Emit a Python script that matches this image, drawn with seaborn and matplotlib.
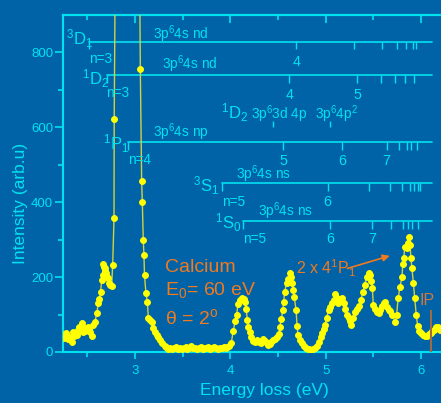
import numpy as np
import pandas as pd
import matplotlib
matplotlib.use('Agg')
import matplotlib.pyplot as plt
import seaborn as sns

# spectrum (energy loss in eV, intensity in arb. units)
energy = [2.25, 2.26, 2.27, 2.28, 2.29, 2.30, 2.31, 2.32, 2.335, 2.35, 2.36, 2.37, 2.38, 2.39,
          2.40, 2.41, 2.42, 2.43, 2.44, 2.45, 2.46, 2.47, 2.48, 2.49, 2.50, 2.51, 2.52, 2.53,
          2.545, 2.56, 2.58, 2.60, 2.615, 2.625, 2.64, 2.65, 2.66, 2.668, 2.675, 2.685, 2.69,
          2.70, 2.71, 2.72, 2.73, 2.74, 2.755, 2.766, 2.78, 2.782, 2.82, 2.92, 3.02, 3.056,
          3.07, 3.077, 3.087, 3.094, 3.10, 3.115, 3.13, 3.14, 3.157, 3.175, 3.19, 3.21, 3.228,
          3.245, 3.265, 3.28, 3.31, 3.33, 3.35, 3.37,
          3.39, 3.41, 3.43, 3.45, 3.47, 3.49, 3.51, 3.53, 3.55, 3.57, 3.59, 3.61, 3.63, 3.65,
          3.67, 3.69, 3.71, 3.73, 3.75, 3.77, 3.79, 3.81, 3.83, 3.85, 3.87, 3.89, 3.91, 3.93,
          3.95, 3.97, 3.99,
          4.01, 4.03, 4.05, 4.067, 4.08, 4.10, 4.12, 4.14, 4.15, 4.165, 4.18, 4.19, 4.21, 4.22,
          4.24, 4.26, 4.28, 4.30, 4.32, 4.34, 4.36, 4.38, 4.40, 4.42, 4.43, 4.45, 4.47, 4.49,
          4.51, 4.52, 4.535, 4.55, 4.56, 4.57, 4.59, 4.61, 4.625, 4.64, 4.65, 4.66, 4.67, 4.69,
          4.70, 4.71, 4.73, 4.75, 4.77, 4.79, 4.81, 4.83, 4.85, 4.87, 4.89, 4.91, 4.93, 4.95,
          4.965, 4.98, 4.99, 5.01, 5.03, 5.05, 5.07, 5.09, 5.10, 5.12, 5.13, 5.15, 5.17, 5.19,
          5.20, 5.22, 5.24, 5.26, 5.27, 5.29, 5.31, 5.33, 5.35, 5.37, 5.39, 5.41, 5.43, 5.45,
          5.465, 5.48, 5.49, 5.50, 5.52, 5.54, 5.555, 5.57, 5.59, 5.61, 5.62, 5.64, 5.66, 5.68,
          5.70, 5.73, 5.745, 5.76, 5.78, 5.80, 5.81, 5.82, 5.83, 5.85, 5.86, 5.87, 5.885, 5.895,
          5.905, 5.92, 5.935, 5.95, 5.965, 5.98, 6.00, 6.02, 6.04, 6.06, 6.08, 6.10, 6.12, 6.14,
          6.16, 6.18, 6.20]
intensity = [45, 38, 48, 50, 42, 35, 40, 37, 27, 54, 44, 50, 47, 45,
             60, 67, 55, 62, 77, 62, 54, 63, 57, 59, 65, 67, 60, 54,
             43, 72, 81, 104, 130, 141, 161, 192, 205, 236, 228, 223, 215,
             210, 200, 197, 185, 179, 176, 232, 357, 621, 2000, 4000, 2100, 755,
             456, 401, 299, 259, 205, 157, 134, 90, 85, 80, 65, 54, 45,
             41, 32, 25, 17, 14, 9, 12,
             8, 11, 14, 9, 12, 7, 10, 13, 9, 11, 15, 10, 12, 8,
             11, 14, 9, 12, 10, 13, 9, 11, 14, 10, 8, 12, 10, 13,
             11, 14, 16,
             24, 55, 82, 100, 128, 139, 145, 141, 134, 115, 85, 68, 54, 41,
             30, 27, 32, 26, 23, 34, 30, 25, 19, 22, 27, 31, 35, 40,
             48, 68, 88, 112, 134, 161, 183, 195, 210, 201, 183, 165, 147, 112,
             70, 45, 32, 25, 16, 12, 9, 8, 6, 9, 11, 16, 26, 41,
             52, 62, 72, 90, 112, 120, 130, 140, 156, 145, 132, 136, 145, 130,
             114, 99, 90, 82, 72, 92, 108, 114, 122, 140, 160, 180, 200, 212,
             205, 190, 172, 125, 114, 106, 103, 112, 122, 132, 134, 120, 112, 110,
             100, 80, 100, 143, 174, 200, 235, 252, 280, 278, 290, 308, 285, 250,
             225, 185, 143, 100, 70, 55, 50, 46, 44, 42, 48, 50, 56, 60,
             66, 68, 60]

# Rydberg series markers
series_level = [829, 740, 561, 451, 350]
series_start = [2.517, 2.71, 2.93, 3.91, 4.13]
series_end = 6.12
series_ticks = [
    [4.69, 5.30, 5.595, 5.745, 5.84, 5.92, 5.95],
    [4.62, 5.33, 5.585, 5.73, 5.83, 5.93],
    [4.556, 5.17, 5.64, 5.77, 5.85, 5.90, 5.96],
    [5.02, 5.46, 5.68, 5.80, 5.88, 5.93, 5.97, 5.985],
    [5.05, 5.49, 5.69, 5.81, 5.86, 5.91, 5.97],
]
series_term = ['$^3$D$_1$', '$^1$D$_2$', '$^1$P$_1$', '$^3$S$_1$', '$^1$S$_0$']
series_config = ['3p$^6$4s nd', '3p$^6$4s nd', '3p$^6$4s np', '3p$^6$4s ns', '3p$^6$4s ns']
series_first = ['n=3', 'n=3', 'n=4', 'n=5', 'n=5']
series_numbers = [['4'], ['4', '5'], ['5', '6', '7'], ['6'], ['6', '7']]

# doubly excited 1D2 states
dbl_energy = [4.445, 5.046]
ip_energy = 6.11

bg = '#0063A8'
cyan = '#00E2F0'
orange = '#F07A1E'

sns.set_style('ticks')
plt.rcParams['font.family'] = ['Liberation Sans', 'DejaVu Sans']
plt.rcParams['mathtext.fontset'] = 'custom'
plt.rcParams['mathtext.rm'] = 'Liberation Sans'
plt.rcParams['mathtext.default'] = 'regular'

fig = plt.figure(figsize=(4.41, 4.03), dpi=100, facecolor=bg)
ax = fig.add_axes([63 / 441, 51 / 403, 378 / 441, 337 / 403])
ax.set_facecolor(bg)

df = pd.DataFrame({'energy': energy, 'intensity': intensity})
sns.lineplot(data=df, x='energy', y='intensity', ax=ax, estimator=None, sort=True,
             color='#D2D23C', lw=1.0, marker='o', markersize=4.2,
             markerfacecolor='#FFFF00', markeredgecolor='#FFFF00', zorder=3)

ax.set_xlim(2.245, 6.21)
ax.set_ylim(0, 900)

tick_len = 21
for lev, st, tks in zip(series_level, series_start, series_ticks):
    ax.plot([st, series_end], [lev, lev], color=cyan, lw=1.2, zorder=2)
    ax.vlines([st] + tks, lev - tick_len, lev, color=cyan, lw=1.0, zorder=2)

# series labels
fs_term, fs_lab = 12, 9.8
term_pos = [(2.28, 821), (2.44, 715), (2.66, 539), (3.61, 427), (3.84, 330)]
first_pos = [(2.517, 771), (2.696, 681), (2.93, 501), (3.916, 390), (4.13, 291)]
config_pos = [(3.19, 837), (3.287, 757), (3.19, 573), (4.06, 463), (4.294, 363)]
num_y = [765, 676, 499, 389, 291]
for i in range(5):
    ax.text(*term_pos[i], series_term[i], color=cyan, fontsize=fs_term, va='baseline')
    ax.text(*first_pos[i], series_first[i], color=cyan, fontsize=fs_lab, va='baseline')
    ax.text(*config_pos[i], series_config[i], color=cyan, fontsize=fs_lab, va='baseline')
    for lab, e in zip(series_numbers[i], series_ticks[i]):
        ax.text(e, num_y[i], lab, color=cyan, fontsize=fs_lab + 0.5, va='baseline', ha='center')

ax.text(3.90, 623, '$^1$D$_2$', color=cyan, fontsize=fs_term, va='baseline')
ax.text(4.22, 621, '3p$^6$3d 4p', color=cyan, fontsize=fs_lab, va='baseline')
ax.text(4.889, 621, '3p$^6$4p$^2$', color=cyan, fontsize=fs_lab, va='baseline')
ax.vlines(dbl_energy, 600, 617, color=cyan, lw=1.0)

# annotations
ax.text(3.315, 214, 'Calcium', color=orange, fontsize=14, va='baseline')
ax.text(3.315, 152, 'E$_0$= 60 eV', color=orange, fontsize=14, va='baseline')
ax.text(3.315, 74, 'θ = 2$^o$', color=orange, fontsize=14, va='baseline')
ax.text(4.69, 208, '2 x 4$^1$P$_1$', color=orange, fontsize=11.5, va='baseline')
ax.annotate('', xy=(5.70, 259), xytext=(5.20, 221),
            arrowprops=dict(arrowstyle='-|>', color=orange, lw=1.2, mutation_scale=10))
ax.text(5.98, 125, 'IP', color='#D07840', fontsize=11.5, va='baseline')
ax.vlines([ip_energy], 0, 112, color='#A06A45', lw=1.5, zorder=4)

# axes styling
for side in ['left', 'bottom', 'top']:
    ax.spines[side].set_color(cyan)
    ax.spines[side].set_linewidth(1.5)
ax.spines['right'].set_visible(False)
ax.set_xticks([3, 4, 5, 6])
ax.set_xticks([2.5, 3.5, 4.5, 5.5], minor=True)
ax.set_yticks([0, 200, 400, 600, 800])
ax.set_yticks([100, 300, 500, 700], minor=True)
ax.tick_params(axis='both', which='major', colors=cyan, labelsize=9.5, width=1.2, length=5, direction='out')
ax.tick_params(axis='both', which='minor', colors=cyan, width=1.2, length=3.5, direction='out')
ax.tick_params(axis='y', which='major', length=6, pad=1)
ax.tick_params(axis='x', which='major', pad=4)

sec = ax.secondary_xaxis('top')
sec.set_xticks([3, 4, 5, 6])
sec.set_xticks([2.5, 3.5, 4.5, 5.5], minor=True)
sec.tick_params(which='major', direction='in', length=6, width=1.2, colors=cyan, labeltop=False)
sec.tick_params(which='minor', direction='in', length=3.5, width=1.2, colors=cyan)
sec.spines['top'].set_color(cyan)
sec.spines['top'].set_linewidth(1.5)

ax.set_xlabel('Energy loss (eV)', color=cyan, fontsize=12.5)
ax.set_ylabel('Intensity (arb.u)', color=cyan, fontsize=12.5)
ax.xaxis.set_label_coords(0.532, -0.093)
ax.yaxis.set_label_coords(-0.093, 0.442)

fig.savefig('out.png', dpi=100, facecolor=bg)
